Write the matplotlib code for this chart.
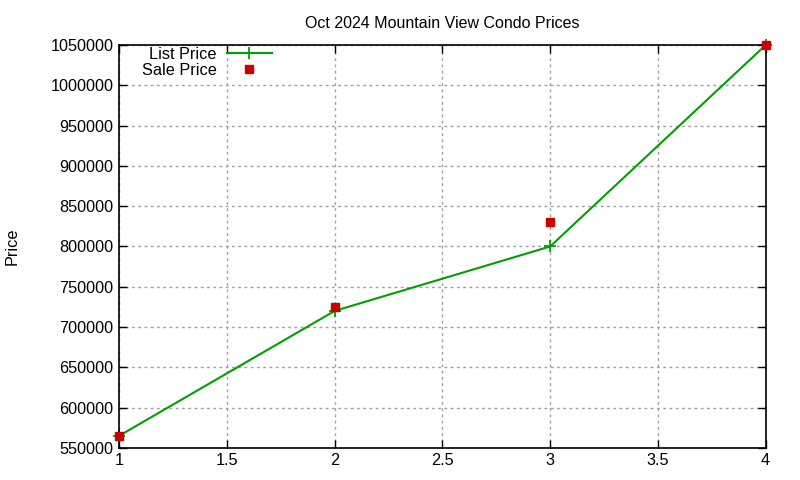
import matplotlib.pyplot as plt
from matplotlib.ticker import MultipleLocator

# --- data ---
unit = [1, 2, 3, 4]
list_price = [565000, 720000, 800000, 1050000]
sale_price = [565000, 725000, 830000, 1050000]

plt.rcParams['font.family'] = ['Liberation Sans', 'DejaVu Sans']
plt.rcParams['font.size'] = 11.7

fig = plt.figure(figsize=(8, 4.8), dpi=100)
ax = fig.add_axes([0.149, 0.067, 0.808, 0.839])

ax.plot(unit, list_price, color='#00a000', lw=1.5, marker='+', ms=8, mew=1.3,
        label='List Price', clip_on=False)
ax.plot(unit, sale_price, ls='none', color='#cc0000', marker='s', ms=6,
        label='Sale Price', zorder=3, clip_on=False)

ax.set_xlim(1, 4)
ax.set_ylim(550000, 1050000)
ax.xaxis.set_major_locator(MultipleLocator(0.5))
ax.yaxis.set_major_locator(MultipleLocator(50000))
ax.xaxis.set_major_formatter(plt.FuncFormatter(lambda v, p: f'{v:g}'))
ax.yaxis.set_major_formatter(plt.FuncFormatter(lambda v, p: f'{v:.0f}'))

ax.tick_params(direction='in', top=True, right=True, length=6, width=1,
               labelsize=11.7, pad=4)
ax.grid(True, color='#a0a0a0', ls=(0, (2, 2.5)), lw=1)
ax.set_axisbelow(True)
for s in ax.spines.values():
    s.set_linewidth(1.2)

ax.set_ylabel('Price', labelpad=22)
ax.set_title('Oct 2024 Mountain View Condo Prices', fontsize=11.5, pad=12)

ax.legend(loc='upper left', bbox_to_anchor=(0.02, 1.02), frameon=False,
          markerfirst=False, handlelength=2.8, handletextpad=0.6,
          labelspacing=0.05, borderaxespad=0.2)

fig.savefig('out.png')
